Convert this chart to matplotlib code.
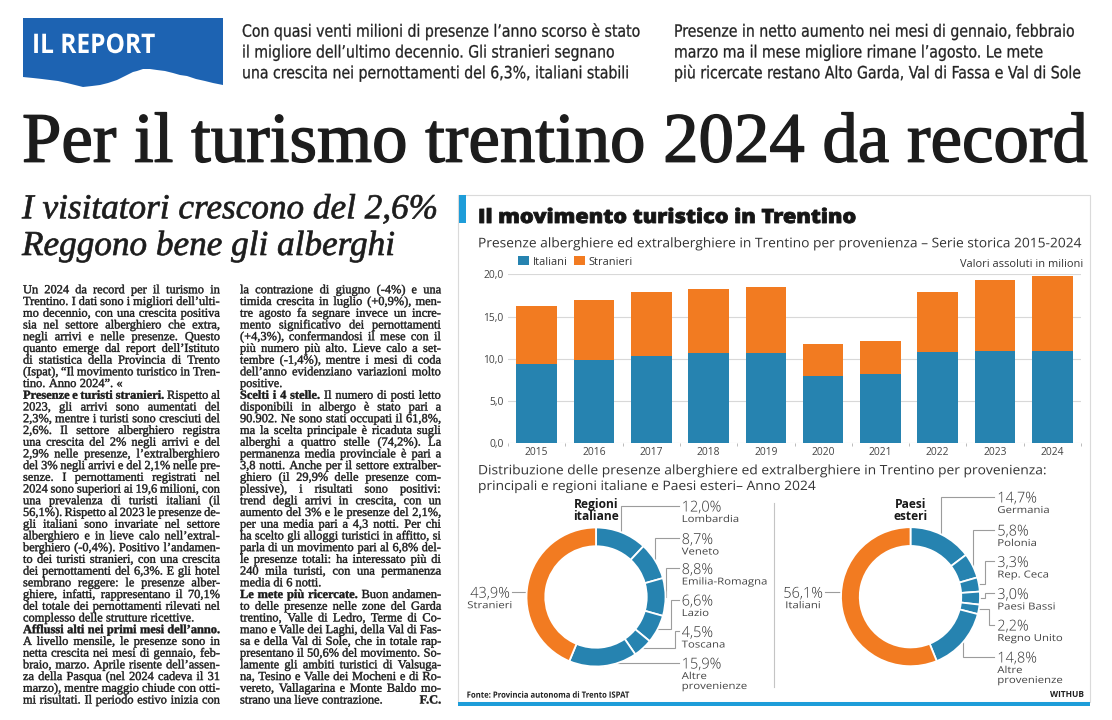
import matplotlib
matplotlib.use('Agg')
import matplotlib.pyplot as plt
import matplotlib.text as mtext
import matplotlib.patheffects as pe
from matplotlib import font_manager as fm
from matplotlib.font_manager import FontProperties
from matplotlib.transforms import Affine2D, Bbox
from matplotlib.patches import Rectangle, Polygon
import numpy as np

# ---------------- dati ----------------
ANNI = ['2015', '2016', '2017', '2018', '2019', '2020', '2021', '2022', '2023', '2024']
ITALIANI = [9.4, 9.9, 10.3, 10.7, 10.7, 8.0, 8.2, 10.75, 10.95, 10.95]
STRANIERI = [6.8, 7.1, 7.6, 7.55, 7.8, 3.8, 3.85, 7.15, 8.35, 8.8]
Y_TICKS = [0, 5, 10, 15, 20]

REGIONI = ['Lombardia', 'Veneto', 'Emilia-Romagna', 'Lazio', 'Toscana', 'Altre\nprovenienze']
REGIONI_PCT = [12.0, 8.7, 8.8, 6.6, 4.5, 15.9]
STRANIERI_PCT = 43.9

PAESI = ['Germania', 'Polonia', 'Rep. Ceca', 'Paesi Bassi', 'Regno Unito', 'Altre\nprovenienze']
PAESI_PCT = [14.7, 5.8, 3.3, 3.0, 2.2, 14.8]
ITALIANI_PCT = 56.1

# ---------------- testi ----------------
DECK1 = ['Con quasi venti milioni di presenze l’anno scorso è stato',
         'il migliore dell’ultimo decennio. Gli stranieri segnano',
         'una crescita nei pernottamenti del 6,3%, italiani stabili']
DECK2 = ['Presenze in netto aumento nei mesi di gennaio, febbraio',
         'marzo ma il mese migliore rimane l’agosto. Le mete',
         'più ricercate restano Alto Garda, Val di Fassa e Val di Sole']
TITOLO = 'Per il turismo trentino 2024 da record'
OCCHIELLO = ['I visitatori crescono del 2,6%', 'Reggono bene gli alberghi']

COL1 = [
    'Un 2024 da record per il turismo in',
    'Trentino. I dati sono i migliori dell’ulti-',
    'mo decennio, con una crescita positiva',
    'sia nel settore alberghiero che extra,',
    'negli arrivi e nelle presenze. Questo',
    'quanto emerge dal report dell’Istituto',
    'di statistica della Provincia di Trento',
    '(Ispat), “Il movimento turistico in Tren-',
    'tino. Anno 2024”. «',
    '**Presenze e turisti stranieri.** Rispetto al',
    '2023, gli arrivi sono aumentati del',
    '2,3%, mentre i turisti sono cresciuti del',
    '2,6%. Il settore alberghiero registra',
    'una crescita del 2% negli arrivi e del',
    '2,9% nelle presenze, l’extralberghiero',
    'del 3% negli arrivi e del 2,1% nelle pre-',
    'senze. I pernottamenti registrati nel',
    '2024 sono superiori ai 19,6 milioni, con',
    'una prevalenza di turisti italiani (il',
    '56,1%). Rispetto al 2023 le presenze de-',
    'gli italiani sono invariate nel settore',
    'alberghiero e in lieve calo nell’extral-',
    'berghiero (-0,4%). Positivo l’andamen-',
    'to dei turisti stranieri, con una crescita',
    'dei pernottamenti del 6,3%. E gli hotel',
    'sembrano reggere: le presenze alber-',
    'ghiere, infatti, rappresentano il 70,1%',
    'del totale dei pernottamenti rilevati nel',
    'complesso delle strutture ricettive.',
    '**Afflussi alti nei primi mesi dell’anno.**',
    'A livello mensile, le presenze sono in',
    'netta crescita nei mesi di gennaio, feb-',
    'braio, marzo. Aprile risente dell’assen-',
    'za della Pasqua (nel 2024 cadeva il 31',
    'marzo), mentre maggio chiude con otti-',
    'mi risultati. Il periodo estivo inizia con',
]
COL1_FINE = {8, 28}

COL2 = [
    'la contrazione di giugno (-4%) e una',
    'timida crescita in luglio (+0,9%), men-',
    'tre agosto fa segnare invece un incre-',
    'mento significativo dei pernottamenti',
    '(+4,3%), confermandosi il mese con il',
    'più numero più alto. Lieve calo a set-',
    'tembre (-1,4%), mentre i mesi di coda',
    'dell’anno evidenziano variazioni molto',
    'positive.',
    '**Scelti i 4 stelle.** Il numero di posti letto',
    'disponibili in albergo è stato pari a',
    '90.902. Ne sono stati occupati il 61,8%,',
    'ma la scelta principale è ricaduta sugli',
    'alberghi a quattro stelle (74,2%). La',
    'permanenza media provinciale è pari a',
    '3,8 notti. Anche per il settore extralber-',
    'ghiero (il 29,9% delle presenze com-',
    'plessive), i risultati sono positivi:',
    'trend degli arrivi in crescita, con un',
    'aumento del 3% e le presenze del 2,1%,',
    'per una media pari a 4,3 notti. Per chi',
    'ha scelto gli alloggi turistici in affitto, si',
    'parla di un movimento pari al 6,8% del-',
    'le presenze totali: ha interessato più di',
    '240 mila turisti, con una permanenza',
    'media di 6 notti.',
    '**Le mete più ricercate.** Buon andamen-',
    'to delle presenze nelle zone del Garda',
    'trentino, Valle di Ledro, Terme di Co-',
    'mano e Valle dei Laghi, della Val di Fas-',
    'sa e della Val di Sole, che in totale rap-',
    'presentano il 50,6% del movimento. So-',
    'lamente gli ambiti turistici di Valsuga-',
    'na, Tesino e Valle dei Mocheni e di Ro-',
    'vereto, Vallagarina e Monte Baldo mo-',
    'strano una lieve contrazione.',
]
COL2_FINE = {8, 25, 35}
SIGLA = 'F.C.'

SERIF = ['Liberation Serif', 'DejaVu Serif']
SANS = ['Open Sans', 'DejaVu Sans']
INK = '#1b1b1b'
BLUE = '#2683b0'
ORANGE = '#f27b21'
CYAN = '#1e9dd9'
REPORT_BLUE = '#1d63b2'
LEADER = '#9c9c9c'

# carattere stretto per i sommari, se installato
_fonts = fm.fontManager.ttflist
if any(f.name == 'Liberation Sans Narrow' for f in _fonts):
    NARROW, NARROW_STRETCH = ['Liberation Sans Narrow'], 'normal'
elif any(f.name == 'DejaVu Sans' and f.stretch == 'condensed' for f in _fonts):
    NARROW, NARROW_STRETCH = ['DejaVu Sans'], 'condensed'
else:
    NARROW, NARROW_STRETCH = SANS, 'normal'

W, H = 1112, 720
fig = plt.figure(figsize=(W / 100, H / 100), dpi=100)
bg = fig.add_axes([0, 0, 1, 1])
bg.set_xlim(0, W)
bg.set_ylim(H, 0)
bg.axis('off')
renderer = fig.canvas.get_renderer()


# compressione orizzontale (e ispessimento) dei glifi
class Squeeze(pe.AbstractPathEffect):
    def __init__(self, sx, lw=0.0):
        super().__init__()
        self.sx = sx
        self.lw = lw

    def draw_path(self, renderer, gc, tpath, affine, rgbFace=None):
        tr = Affine2D().scale(self.sx, 1) + affine
        if self.lw > 0 and rgbFace is not None:
            gc0 = renderer.new_gc()
            gc0.copy_properties(gc)
            gc0.set_linewidth(self.lw)
            gc0.set_foreground(rgbFace)
            gc0.set_joinstyle('round')
            renderer.draw_path(gc0, tpath, tr, rgbFace)
            gc0.restore()
        else:
            renderer.draw_path(gc, tpath, tr, rgbFace)


class SqText(mtext.Text):
    def __init__(self, x, y, s, sx=1.0, lw=0.0, **kw):
        super().__init__(x, y, s, **kw)
        self._sx = sx
        self.set_path_effects([Squeeze(sx, lw)])

    def get_window_extent(self, renderer=None, dpi=None):
        bb = super().get_window_extent(renderer, dpi)
        return Bbox.from_extents(bb.x0, bb.y0, bb.x0 + bb.width * self._sx, bb.y1)


def fprop(family, px, weight='normal', style='normal', stretch='normal'):
    return FontProperties(family=family, size=px * 0.72, weight=weight, style=style,
                          stretch=stretch)


def width(s, prop):
    return renderer.get_text_width_height_descent(s, prop, ismath=False)[0]


def sq(x, y, s, prop, sx=1.0, color=INK, lw=0.0):
    t = SqText(x, y, s, sx=sx, lw=lw, fontproperties=prop, color=color, ha='left',
               va='baseline')
    bg.add_artist(t)
    return t


def fit(s, prop, target):
    return target / width(s, prop)


def fit_clamped(s, prop, target, lo=0.93):
    # stringe fino a lo, oltre riduce il corpo
    sx = fit(s, prop, target)
    if sx < lo:
        prop.set_size(prop.get_size() * sx / lo)
        sx = lo
    return sx


# ---------------- testata ----------------
box = [(23, 18), (223, 18), (223, 85), (213, 83), (205, 81), (196, 79), (187, 76), (180, 75),
       (173, 73), (165, 71), (157, 70), (150, 69), (143, 69), (137, 71), (133, 72), (125, 76),
       (117, 80), (108, 83), (100, 85), (92, 86), (83, 87), (75, 85), (67, 83), (58, 81),
       (50, 80), (42, 79), (33, 78), (23, 77)]
bg.add_patch(Polygon(box, closed=True, fc=REPORT_BLUE, ec='none'))
p = fprop(SANS, 27, 'bold')
sq(32, 53, 'IL REPORT', p, fit('IL REPORT', p, 123), 'white')

p = fprop(NARROW, 17.5, stretch=NARROW_STRETCH)
sx = fit_clamped(DECK1[0], p, 398)
for i, ln in enumerate(DECK1):
    sq(242, 36.7 + i * 20.8, ln, p, sx, '#222222', 0.2)
p = fprop(NARROW, 17.5, stretch=NARROW_STRETCH)
sx = fit_clamped(DECK2[0], p, 401)
for i, ln in enumerate(DECK2):
    sq(674, 36.7 + i * 20.8, ln, p, sx, '#222222', 0.2)

p = fprop(SERIF, 75)
p.set_size(p.get_size() * fit(TITOLO, p, 1066))
sq(22, 161.7, TITOLO, p, 1.0, '#1c1c1c', 1.0)

p = fprop(SERIF, 35, style='italic')
sx = fit_clamped(OCCHIELLO[0], p, 416)
sq(22, 218.3, OCCHIELLO[0], p, sx, '#1c1c1c', 0.5)
sq(22, 255, OCCHIELLO[1], p, sx, '#1c1c1c', 0.5)

# ---------------- corpo articolo ----------------
PR = fprop(SERIF, 12.4)
PB = fprop(SERIF, 12.4, 'bold')
SPACE = width('n n', PR) - width('nn', PR)
C1 = (23, 220)
C2 = (240, 441)
BODY_Y0 = 293.3
BODY_LEAD = 11.72


def parse(line):
    out, bold = [], False
    for tok in line.split(' '):
        if not tok:
            continue
        if tok.startswith('**'):
            tok, bold = tok[2:], True
        b = bold
        if tok.endswith('**'):
            tok, bold = tok[:-2], False
        out.append((tok, b))
    return out


need = []
for lines, fine, (x0, x1) in ((COL1, COL1_FINE, C1), (COL2, COL2_FINE, C2)):
    for i, ln in enumerate(lines):
        if i in fine:
            continue
        ws = parse(ln)
        tot = sum(width(w, PB if b else PR) for w, b in ws) + (len(ws) - 1) * SPACE * 0.7
        need.append(tot / (x1 - x0))
SX = min(1.0, 1.0 / max(need))


def column(lines, fine, x0, x1):
    for i, ln in enumerate(lines):
        y = BODY_Y0 + i * BODY_LEAD
        words = parse(ln)
        ws = [width(w, PB if b else PR) * SX for w, b in words]
        if i in fine or len(words) == 1:
            gap = SPACE * SX
        else:
            gap = ((x1 - x0) - sum(ws)) / (len(words) - 1)
        x = x0
        for (w, b), wd in zip(words, ws):
            sq(x, y, w, PB if b else PR, SX, INK, 0.3)
            x += wd + gap


column(COL1, COL1_FINE, *C1)
column(COL2, COL2_FINE, *C2)
sq(C2[1] - width(SIGLA, PB) * SX, BODY_Y0 + 35 * BODY_LEAD, SIGLA, PB, SX, INK, 0.3)

# ---------------- riquadro grafico ----------------
bg.add_patch(Rectangle((457.5, 194.5), 632.5, 507.5, fill=False, ec='#dadada', lw=0.8))
bg.add_patch(Rectangle((458, 701.7), 632, 4.4, fc=CYAN, ec='none'))
bg.add_patch(Rectangle((459, 195), 7, 28, fc=CYAN, ec='none'))

s = 'Il movimento turistico in Trentino'
p = fprop(SANS, 19.6, 'heavy')
sq(478, 223, s, p, fit(s, p, 379), '#151515', 0.6)
s = 'Presenze alberghiere ed extralberghiere in Trentino per provenienza – Serie storica 2015-2024'
p = fprop(SANS, 13.3)
sq(478, 247.3, s, p, fit(s, p, 605), '#333333')
s = 'Valori assoluti in milioni'
p = fprop(SANS, 11)
p.set_size(p.get_size() * fit(s, p, 123))
bg.text(1083, 267, s, fontproperties=p, color='#333333', ha='right', va='baseline')

ax = fig.add_axes([508 / W, (H - 443.3) / H, 573 / W, 169 / H])
ax.set_facecolor('none')
xs = np.arange(len(ANNI))
b1 = ax.bar(xs, ITALIANI, 0.707, color=BLUE, zorder=2)
b2 = ax.bar(xs, STRANIERI, 0.707, bottom=ITALIANI, color=ORANGE, zorder=2)
ax.set_xlim(-0.5, len(ANNI) - 0.5)
ax.set_ylim(Y_TICKS[0], Y_TICKS[-1])
ax.set_yticks(Y_TICKS, [f'{v:.1f}'.replace('.', ',') for v in Y_TICKS])
ax.set_xticks(xs, ANNI)
ax.set_xticks(np.arange(-0.5, len(ANNI)), minor=True)
ax.tick_params(axis='x', which='major', length=0, pad=2.6, labelsize=7.4, labelcolor='#444444')
ax.tick_params(axis='x', which='minor', length=2.5, width=0.7, color='#bbbbbb')
ax.tick_params(axis='y', length=0, pad=3.0, labelsize=7.4, labelcolor='#444444')
for lab in ax.get_xticklabels() + ax.get_yticklabels():
    lab.set_fontfamily(SANS)
ax.grid(axis='y', color='#d8d8d8', lw=0.8)
ax.set_axisbelow(True)
for sp in ax.spines.values():
    sp.set_visible(False)
leg = ax.legend([b1, b2], ['Italiani', 'Stranieri'], ncol=2, frameon=False, loc='center left',
                bbox_to_anchor=(518, 262), bbox_transform=bg.transData,
                prop=FontProperties(family=SANS, size=7.9), handlelength=1.0, handleheight=0.9,
                handletextpad=0.35, columnspacing=0.55, borderpad=0, borderaxespad=0)
for t in leg.get_texts():
    t.set_color('#333333')

# ---------------- ciambelle ----------------
p = fprop(SANS, 13.0)
s1 = 'Distribuzione delle presenze alberghiere ed extralberghiere in Trentino per provenienza:'
sx = fit(s1, p, 570)
sq(478, 474.3, s1, p, sx, '#333333')
sq(478, 490, 'principali e regioni italiane e Paesi esteri– Anno 2024', p, sx, '#333333')
bg.plot([774.3, 774.3], [503, 687], color='#c4c4c4', lw=0.8)

PPCT = fprop(SANS, 15.0, 'light')
PSUB = fprop(SANS, 9.6)
SX_PCT = fit('12,0%', PPCT, 40)
SX_SUB = fit('Emilia-Romagna', PSUB, 86.7)
PHEAD = fprop(SANS, 12.0, 'bold')


def pct(v):
    return f'{v:.1f}%'.replace('.', ',')


def donut(cx, cy, vals, rest, names, lab_x, bases, elbows, head, rest_name, rest_right):
    R, m = 69.5, 1.08
    a = fig.add_axes([(cx - R * m) / W, (H - cy - R * m) / H, 2 * R * m / W, 2 * R * m / H])
    wedges, _ = a.pie(vals + [rest], colors=[BLUE] * len(vals) + [ORANGE], startangle=90,
                      counterclock=False, radius=1,
                      wedgeprops=dict(width=0.27, edgecolor='white', linewidth=1.3))
    a.set_xlim(-m, m)
    a.set_ylim(-m, m)
    a.set_aspect('auto')
    to_bg = bg.transData.inverted()
    c = to_bg.transform(a.transData.transform((0, 0)))
    r = to_bg.transform(a.transData.transform((1, 0)))[0] - c[0]
    for w, name, v, base, el in zip(wedges, names, vals, bases, elbows):
        th = np.deg2rad((w.theta1 + w.theta2) / 2)
        ax_, ay_ = to_bg.transform(a.transData.transform((np.cos(th), np.sin(th))))
        ly = base - 6.0
        if el is None:
            pts = [(ax_, ay_), (ax_, ly), (lab_x - 3, ly)]
        else:
            pts = [(ax_, ay_), (el, ay_), (el, ly), (lab_x - 3, ly)]
        xx, yy = zip(*pts)
        bg.plot(xx, yy, color=LEADER, lw=0.8, solid_joinstyle='miter')
        sq(lab_x, base, pct(v), PPCT, SX_PCT, '#333333')
        for k, part in enumerate(name.split('\n')):
            sq(lab_x, base + 10.5 + k * 10.0, part, PSUB, SX_SUB, '#444444')
    # etichetta della parte arancione, a sinistra
    ly = 591.7
    xr = c[0] - np.sqrt(r ** 2 - (ly - c[1]) ** 2)
    bg.plot([rest_right + 2, xr], [ly, ly], color=LEADER, lw=0.8)
    wp = width(pct(rest), PPCT) * SX_PCT
    sq(rest_right - wp, ly + 6.0, pct(rest), PPCT, SX_PCT, '#333333')
    ws = width(rest_name, PSUB) * SX_SUB
    sq(rest_right - wp / 2 - ws / 2, ly + 16.5, rest_name, PSUB, SX_SUB, '#444444')
    for k, part in enumerate(head.split('\n')):
        bg.text(cx, 507.7 + k * 12.4, part, fontproperties=PHEAD, color='#1a1a1a',
                ha='center', va='baseline')


donut(596, 597, REGIONI_PCT, STRANIERI_PCT, REGIONI, 681.7,
      [511.5, 544, 574, 605.5, 637, 668.5], [None, None, None, 671, 675, None],
      'Regioni\nitaliane', 'Stranieri', 510)
donut(910.5, 596.7, PAESI_PCT, ITALIANI_PCT, PAESI, 997.3,
      [502.5, 535.5, 567, 599, 630.5, 662.5], [None, None, 985, 985, 989, None],
      'Paesi\nesteri', 'Italiani', 823.3)

s = 'Fonte: Provincia autonoma di Trento ISPAT'
p = fprop(SANS, 8.6, 'bold')
sq(466.7, 697.7, s, p, fit(s, p, 163), '#222222')
bg.text(1084, 696.7, 'WITHUB', fontproperties=fprop(SANS, 8.4, 'bold'), color='#222222',
        ha='right', va='baseline')

fig.savefig('out.png', dpi=100)
